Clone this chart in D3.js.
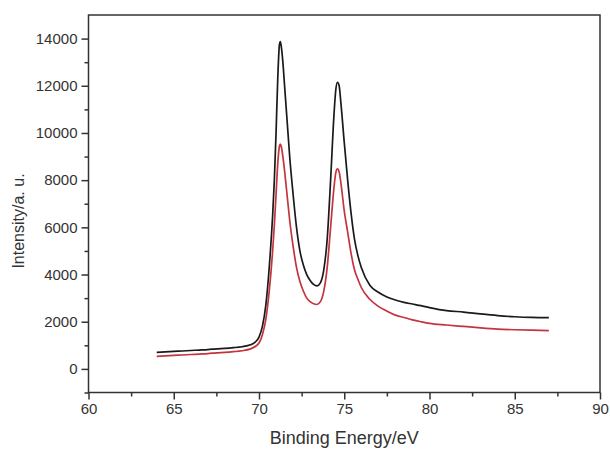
<!DOCTYPE html>
<html>
<head>
<meta charset="utf-8">
<script src="https://cdn.jsdelivr.net/npm/d3@7"></script>
<style>
  html, body { margin: 0; padding: 0; background: #fff; }
  svg { display: block; }
  text { font-family: "Liberation Sans", Arial, sans-serif; fill: #333; }
</style>
</head>
<body>
<svg id="chart" width="610" height="450"></svg>
<script>
// Binding energy (eV) sample positions
const energy = [64.0,64.5,65.0,65.5,66.0,66.5,67.0,67.5,68.0,68.5,69.0,69.5,69.8,70.0,70.2,70.4,70.6,70.8,70.9,71.0,71.1,71.2,71.25,71.3,71.4,71.5,71.6,71.7,71.8,72.0,72.2,72.4,72.6,72.8,73.0,73.2,73.4,73.6,73.8,74.0,74.2,74.4,74.5,74.6,74.7,74.8,75.0,75.2,75.4,75.6,75.8,76.0,76.5,77.0,77.5,78.0,78.5,79.0,79.5,80.0,81.0,82.0,83.0,84.0,85.0,86.0,87.0];
// Black spectrum intensity
const blackSeries = [700,720,740,760,780,800,820,850,870,900,940,1020,1150,1350,1800,2700,4300,6500,8000,10000,12300,13750,13870,13700,13000,12000,11000,10000,9000,7400,6000,5000,4400,4000,3750,3580,3520,3650,4200,5500,8000,10800,11800,12150,12000,11300,9600,8000,6600,5500,4800,4300,3550,3250,3050,2920,2820,2750,2680,2600,2470,2410,2330,2260,2210,2180,2170];
// Red spectrum intensity
const redSeries = [530,550,570,590,610,630,650,680,700,730,770,850,960,1100,1450,2100,3300,5000,6100,7400,8700,9450,9530,9450,9000,8400,7700,7000,6300,5200,4300,3700,3300,3000,2850,2760,2730,2850,3300,4300,6000,7700,8300,8480,8350,7900,6700,5800,4900,4200,3800,3450,2950,2650,2450,2280,2180,2080,2000,1930,1860,1800,1740,1690,1660,1640,1620];
// Tick labels
const xTicks = [60,65,70,75,80,85,90];
const xMinor = [62.5,67.5,72.5,77.5,82.5,87.5];
const yTicks = [0,2000,4000,6000,8000,10000,12000,14000];
const yMinor = [-1000,1000,3000,5000,7000,9000,11000,13000];

const svg = d3.select("#chart");
const L = 88.5, R = 600, T = 15, B = 392.5;

const x = d3.scaleLinear().domain([60, 90]).range([L, R]);
const y = d3.scaleLinear().domain([-1000, 15000]).range([B, T]);

const axisColor = "#333";

// frame
svg.append("rect").attr("x", L).attr("y", T).attr("width", R - L).attr("height", B - T)
  .attr("fill", "none").attr("stroke", axisColor).attr("stroke-width", 1.5);

// X axis
const gx = svg.append("g").attr("transform", `translate(0,${B})`)
  .call(d3.axisBottom(x).tickValues(xTicks).tickSize(7).tickPadding(4).tickFormat(d3.format("d")));
const gxm = svg.append("g").attr("transform", `translate(0,${B})`)
  .call(d3.axisBottom(x).tickValues(xMinor).tickSize(4).tickFormat(""));

// Y axis
const gy = svg.append("g").attr("transform", `translate(${L},0)`)
  .call(d3.axisLeft(y).tickValues(yTicks).tickSize(7).tickPadding(4).tickFormat(d3.format("d")));
const gym = svg.append("g").attr("transform", `translate(${L},0)`)
  .call(d3.axisLeft(y).tickValues(yMinor).tickSize(4).tickFormat(""));

[gx, gxm, gy, gym].forEach(g => {
  g.select(".domain").remove();
  g.selectAll(".tick line").attr("stroke", axisColor).attr("stroke-width", 1.5);
  g.selectAll(".tick text").attr("font-size", 15).attr("fill", "#333")
    .attr("font-family", "'Liberation Sans', Arial, sans-serif");
});

// lines
const line = (vals) => d3.line()
  .x((d, i) => x(energy[i]))
  .y(d => y(d))
  .curve(d3.curveMonotoneX)(vals);

svg.append("path").attr("d", line(redSeries))
  .attr("fill", "none").attr("stroke", "#c4343e").attr("stroke-width", 1.7);
svg.append("path").attr("d", line(blackSeries))
  .attr("fill", "none").attr("stroke", "#1a1a1a").attr("stroke-width", 1.7);

// axis labels
svg.append("text").attr("x", (L + R) / 2).attr("y", 444).attr("text-anchor", "middle")
  .attr("font-size", 18).text("Binding Energy/eV");
svg.append("text").attr("transform", "translate(24,221) rotate(-90)").attr("text-anchor", "middle")
  .attr("font-size", 16).text("Intensity/a. u.");
</script>
</body>
</html>
